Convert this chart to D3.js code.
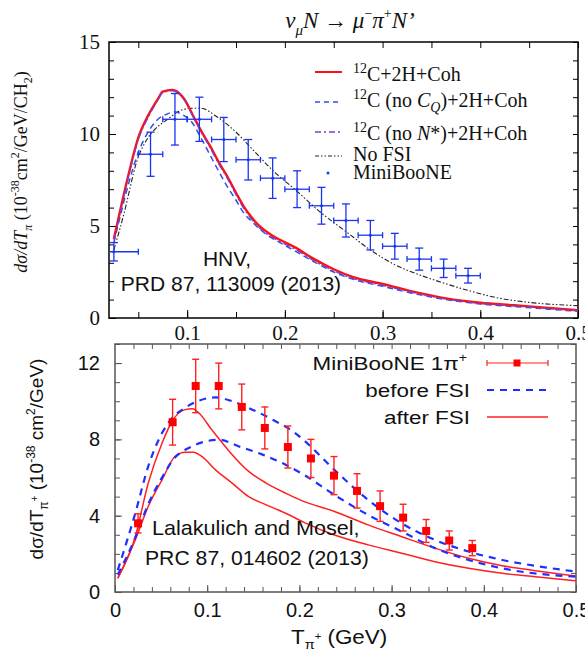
<!DOCTYPE html>
<html>
<head>
<meta charset="utf-8">
<script src="https://cdn.jsdelivr.net/npm/d3@7"></script>
<style>
body{margin:0;background:#fff;}
.serif{font-family:"Liberation Serif","Times New Roman",serif;}
.sans{font-family:"Liberation Sans",Arial,sans-serif;}
</style>
</head>
<body>
<div id="vis-container"></div>
<script>
//MiniBooNE CC1pi+ data, shared by both panels
let mbT    = [0.025,0.0625,0.0875,0.1125,0.1375,0.1625,0.1875,0.2125,0.2375,0.2625,0.2875,0.3125,0.3375,0.3625,0.3875];
let mbHalf = [0.025,0.0125,0.0125,0.0125,0.0125,0.0125,0.0125,0.0125,0.0125,0.0125,0.0125,0.0125,0.0125,0.0125,0.0125];
let mbVal  = [3.6,8.9,10.8,10.8,9.7,8.6,7.6,7.0,6.1,5.3,4.5,3.9,3.2,2.7,2.3];
let mbErr  = [0.5,1.2,1.4,1.2,1.2,1.1,1.1,1.0,1.0,0.9,0.8,0.7,0.6,0.5,0.4];

//top panel (HNV) curves
let cohT   = [0.025,0.03,0.04,0.05,0.06,0.07,0.075,0.085,0.09,0.097,0.107,0.115,0.124,0.132,0.141,0.15,0.158,0.167,0.175,0.185,0.195,0.21,0.23,0.25,0.27,0.3,0.33,0.365,0.4,0.435,0.47,0.5];
let cohVal = [4.3,5.5,7.8,9.8,11.0,11.9,12.3,12.4,12.3,11.9,10.9,10.1,9.3,8.5,7.7,6.8,6.05,5.4,4.95,4.55,4.25,3.85,3.2,2.65,2.22,1.85,1.45,1.07,0.83,0.69,0.55,0.42];
let noNstarVal = [4.2,5.4,7.7,9.7,10.9,11.85,12.25,12.35,12.25,11.85,10.85,10.05,9.2,8.4,7.6,6.7,5.95,5.3,4.85,4.45,4.15,3.75,3.1,2.57,2.14,1.78,1.4,1.03,0.8,0.66,0.52,0.4];
let noCqT   = [0.025,0.03,0.04,0.05,0.06,0.07,0.08,0.088,0.095,0.104,0.114,0.124,0.132,0.141,0.15,0.158,0.167,0.175,0.185,0.195,0.21,0.23,0.25,0.27,0.3,0.33,0.365,0.4,0.435,0.47,0.5];
let noCqVal = [4.1,5.2,7.3,9.0,10.1,10.8,11.1,11.2,11.05,10.7,9.8,8.8,8.0,7.15,6.4,5.7,5.2,4.8,4.4,4.1,3.65,3.05,2.5,2.1,1.72,1.35,1.0,0.76,0.62,0.48,0.36];
let noFsiT   = [0.025,0.035,0.049,0.06,0.066,0.08,0.094,0.105,0.114,0.13,0.148,0.168,0.188,0.21,0.2375,0.2625,0.2875,0.3125,0.3375,0.3625,0.3875,0.42,0.45,0.5];
let noFsiVal = [3.7,5.6,8.6,9.8,10.2,10.8,11.3,11.4,11.4,10.95,10.2,9.1,8.0,7.0,5.7,4.7,3.7,2.9,2.35,1.9,1.5,1.07,0.85,0.67];

//bottom panel (Lalakulich & Mosel) curves
let afterAT   = [0.003,0.022,0.036,0.051,0.062,0.076,0.084,0.091,0.105,0.124,0.145,0.164,0.185,0.202,0.238,0.2745,0.311,0.347,0.3835,0.42,0.456,0.5];
let afterAVal = [0.72,2.9,5.7,7.8,8.95,9.56,9.6,9.38,8.5,7.37,6.32,5.71,5.18,4.8,4.22,3.52,2.9,2.3,1.77,1.38,1.12,0.84];
let afterBT   = [0.003,0.022,0.036,0.051,0.065,0.076,0.085,0.0945,0.109,0.127,0.145,0.164,0.185,0.205,0.238,0.2745,0.311,0.347,0.3835,0.42,0.456,0.5];
let afterBVal = [0.72,2.73,4.48,5.88,7.1,7.33,7.33,7.1,6.4,5.71,5.0,4.57,4.13,3.65,2.99,2.47,2.03,1.59,1.24,0.98,0.8,0.59];
let beforeAT   = [0.003,0.022,0.036,0.051,0.062,0.076,0.091,0.109,0.127,0.145,0.171,0.193,0.205,0.238,0.2745,0.311,0.347,0.3835,0.42,0.456,0.5];
let beforeAVal = [1.15,4.13,6.58,8.33,9.12,9.65,10.03,10.2,10.0,9.65,9.03,8.42,7.95,6.4,4.83,3.6,2.73,2.12,1.68,1.37,1.07];
let beforeBT   = [0.003,0.022,0.036,0.051,0.065,0.08,0.098,0.113,0.1345,0.16,0.185,0.205,0.238,0.2745,0.311,0.347,0.3835,0.42,0.5];
let beforeBVal = [0.9,2.85,4.6,6.0,7.05,7.55,7.89,7.98,7.63,7.2,6.67,6.14,5.09,4.04,3.17,2.3,1.68,1.24,0.8];

let width = 585, height = 652;

let svg = d3.select("#vis-container")
  .append("svg")
  .attr("width", width)
  .attr("height", height);

//frames of the two panels
let pTop = {left:109, right:578, top:42, bottom:318};
let pBot = {left:115, right:576, top:344, bottom:592};

//scales
let x1 = d3.scaleLinear().domain([0.02,0.5]).range([pTop.left,pTop.right]);
let y1 = d3.scaleLinear().domain([0,15]).range([pTop.bottom,pTop.top]);
let x2 = d3.scaleLinear().domain([0,0.5]).range([pBot.left,pBot.right]);
let y2 = d3.scaleLinear().domain([0,13]).range([pBot.bottom,pBot.top]);

//clip paths
let defs = svg.append("defs");
defs.append("clipPath").attr("id","clipTop").append("rect")
  .attr("x",pTop.left).attr("y",pTop.top)
  .attr("width",pTop.right-pTop.left).attr("height",pTop.bottom-pTop.top);
defs.append("clipPath").attr("id","clipBot").append("rect")
  .attr("x",pBot.left).attr("y",pBot.top)
  .attr("width",pBot.right-pBot.left).attr("height",pBot.bottom-pBot.top);

//helper: draw an axis, strip its domain line
function drawAxis(axis, tx, ty, color){
  let g = svg.append("g")
    .attr("transform", `translate(${tx},${ty})`)
    .call(axis);
  g.select(".domain").remove();
  g.selectAll("line").attr("stroke", color).attr("stroke-width",1);
  return g;
}

// ================= TOP PANEL =================
let serifAxisText = g => g.selectAll("text")
  .attr("class","serif").attr("font-size",21).attr("fill","#111");

drawAxis(d3.axisLeft(y1).tickValues(d3.range(0,16,1)).tickSize(-5).tickFormat(""), pTop.left, 0, "#000");
drawAxis(d3.axisRight(y1).tickValues(d3.range(0,16,1)).tickSize(-5).tickFormat(""), pTop.right, 0, "#000");
drawAxis(d3.axisLeft(y1).tickValues([0,5,10,15]).tickSizeInner(-7).tickSizeOuter(0).tickPadding(9).tickFormat(d3.format("d")), pTop.left, 0, "#000")
  .call(serifAxisText);
drawAxis(d3.axisTop(x1).tickValues(d3.range(0.05,0.51,0.05)).tickSize(-6).tickFormat(""), 0, pTop.top, "#000");
drawAxis(d3.axisBottom(x1).tickValues(d3.range(0.05,0.51,0.05)).tickSize(-6).tickFormat(""), 0, pTop.bottom, "#000");
drawAxis(d3.axisBottom(x1).tickValues([0.1,0.2,0.3,0.4,0.5]).tickSizeInner(-8).tickSizeOuter(0).tickPadding(7).tickFormat(d3.format(".1f")), 0, pTop.bottom, "#000")
  .call(serifAxisText);

svg.append("rect")
  .attr("x",pTop.left).attr("y",pTop.top)
  .attr("width",pTop.right-pTop.left).attr("height",pTop.bottom-pTop.top)
  .attr("fill","none").attr("stroke","#000").attr("stroke-width",1.5);

let gTop = svg.append("g").attr("clip-path","url(#clipTop)");

let lineTop = d3.line()
  .x(d=>x1(d[0])).y(d=>y1(d[1]))
  .curve(d3.curveMonotoneX);

let topCurves = [
  {t:noFsiT, v:noFsiVal, color:"#222", w:1.1, dash:"5,2,1.5,2,1.5,2"},
  {t:noCqT, v:noCqVal, color:"#2f52e0", w:1.5, dash:"6,4"},
  {t:cohT, v:cohVal, color:"#ff1010", w:2.4, dash:null},
  {t:cohT, v:noNstarVal, color:"#7b3fd0", w:1.4, dash:"7,3,2,3"}
];

for (let c of topCurves){
  gTop.append("path")
    .attr("d", lineTop(c.t.map((t,i)=>[t,c.v[i]])))
    .attr("fill","none")
    .attr("stroke",c.color)
    .attr("stroke-width",c.w)
    .attr("stroke-dasharray",c.dash);
}

//MiniBooNE points, top panel
let mbBlue = "#1a35f0";
let topPts = gTop.selectAll(".mbTop")
  .data(mbT.map((t,i)=>({t:t, h:mbHalf[i], v:mbVal[i], e:mbErr[i]})))
  .enter().append("g").attr("class","mbTop")
  .attr("stroke",mbBlue).attr("stroke-width",1.3);

topPts.append("line")
  .attr("x1",d=>x1(d.t-d.h)).attr("x2",d=>x1(d.t+d.h))
  .attr("y1",d=>y1(d.v)).attr("y2",d=>y1(d.v));
topPts.append("line")
  .attr("x1",d=>x1(d.t+d.h)).attr("x2",d=>x1(d.t+d.h))
  .attr("y1",d=>y1(d.v)-3).attr("y2",d=>y1(d.v)+3);
topPts.append("line")
  .attr("x1",d=>x1(d.t-d.h)).attr("x2",d=>x1(d.t-d.h))
  .attr("y1",d=>y1(d.v)-3).attr("y2",d=>y1(d.v)+3);
topPts.append("line")
  .attr("x1",d=>x1(d.t)).attr("x2",d=>x1(d.t))
  .attr("y1",d=>y1(d.v+d.e)).attr("y2",d=>y1(d.v-d.e));
topPts.append("line")
  .attr("x1",d=>x1(d.t)-4).attr("x2",d=>x1(d.t)+4)
  .attr("y1",d=>y1(d.v+d.e)).attr("y2",d=>y1(d.v+d.e));
topPts.append("line")
  .attr("x1",d=>x1(d.t)-4).attr("x2",d=>x1(d.t)+4)
  .attr("y1",d=>y1(d.v-d.e)).attr("y2",d=>y1(d.v-d.e));
topPts.append("circle")
  .attr("cx",d=>x1(d.t)).attr("cy",d=>y1(d.v)).attr("r",1.5)
  .attr("fill",mbBlue).attr("stroke","none");

//title
let title = svg.append("text").attr("class","serif")
  .attr("x",350).attr("y",28).attr("text-anchor","middle")
  .attr("font-size",23).attr("font-style","italic").attr("fill","#111");
title.append("tspan").text("ν");
title.append("tspan").attr("font-size",15).attr("dy",7).text("μ");
title.append("tspan").attr("dy",-7).text("N ");
title.append("tspan").attr("font-style","normal").text("→ ");
title.append("tspan").text("μ");
title.append("tspan").attr("font-size",14).attr("dy",-10).attr("font-style","normal").text("−");
title.append("tspan").attr("dy",10).text("π");
title.append("tspan").attr("font-size",14).attr("dy",-10).attr("font-style","normal").text("+");
title.append("tspan").attr("dy",10).text("N’");

//top y label
let yl1 = svg.append("text").attr("class","serif")
  .attr("transform","translate(27,172) rotate(-90)")
  .attr("text-anchor","middle").attr("font-size",18).attr("fill","#111");
yl1.append("tspan").attr("font-style","italic").text("dσ/dT");
yl1.append("tspan").attr("font-style","italic").attr("font-size",12).attr("dy",5).text("π");
yl1.append("tspan").attr("dy",-5).text("  (10");
yl1.append("tspan").attr("font-size",12).attr("dy",-8).text("-38");
yl1.append("tspan").attr("dy",8).text("cm");
yl1.append("tspan").attr("font-size",12).attr("dy",-8).text("2");
yl1.append("tspan").attr("dy",8).text("/GeV/CH");
yl1.append("tspan").attr("font-size",12).attr("dy",5).text("2");
yl1.append("tspan").attr("dy",-5).text(")");

//top legend
let legTop = svg.append("g").attr("class","serif").attr("font-size",20).attr("fill","#111");
let legX0 = 315, legX1 = 342, legTx = 353;
let legRows = [
  {y:72, color:"#ff1010", w:2, dash:null},
  {y:102, color:"#2f52e0", w:1.3, dash:"5,4"},
  {y:132, color:"#7b3fd0", w:1.3, dash:"6,3,2,3"},
  {y:156, color:"#222", w:1, dash:"4,2,1.5,2,1.5,2"}
];
for (let r of legRows){
  legTop.append("line")
    .attr("x1",legX0).attr("x2",legX1).attr("y1",r.y).attr("y2",r.y)
    .attr("stroke",r.color).attr("stroke-width",r.w).attr("stroke-dasharray",r.dash);
}
legTop.append("circle").attr("cx",328).attr("cy",173).attr("r",1.5).attr("fill",mbBlue);

let t1 = legTop.append("text").attr("x",legTx).attr("y",81);
t1.append("tspan").attr("font-size",14).attr("dy",-8).text("12");
t1.append("tspan").attr("dy",8).text("C+2H+Coh");
let t2 = legTop.append("text").attr("x",legTx).attr("y",107);
t2.append("tspan").attr("font-size",14).attr("dy",-8).text("12");
t2.append("tspan").attr("dy",8).text("C (no ");
t2.append("tspan").attr("font-style","italic").text("C");
t2.append("tspan").attr("font-style","italic").attr("font-size",14).attr("dy",5).text("Q");
t2.append("tspan").attr("dy",-5).text(")+2H+Coh");
let t3 = legTop.append("text").attr("x",legTx).attr("y",140);
t3.append("tspan").attr("font-size",14).attr("dy",-8).text("12");
t3.append("tspan").attr("dy",8).text("C (no ");
t3.append("tspan").attr("font-style","italic").text("N");
t3.append("tspan").text("*)+2H+Coh");
legTop.append("text").attr("x",legTx).attr("y",161).text("No FSI");
legTop.append("text").attr("x",legTx).attr("y",179).text("MiniBooNE");

//top annotation
svg.append("text").attr("class","sans").attr("x",227).attr("y",266)
  .attr("text-anchor","middle").attr("font-size",21).attr("fill","#111").text("HNV,");
svg.append("text").attr("class","sans").attr("x",231).attr("y",291)
  .attr("text-anchor","middle").attr("font-size",21).attr("fill","#111").text("PRD 87, 113009 (2013)");

// ================= BOTTOM PANEL =================
let frameGray = "#555";
let sansAxisText = g => g.selectAll("text")
  .attr("class","sans").attr("font-size",20).attr("fill","#111");

drawAxis(d3.axisLeft(y2).tickValues(d3.range(0,14,1)).tickSize(-5).tickFormat(""), pBot.left, 0, frameGray);
drawAxis(d3.axisRight(y2).tickValues(d3.range(0,14,1)).tickSize(-5).tickFormat(""), pBot.right, 0, frameGray);
drawAxis(d3.axisLeft(y2).tickValues([0,4,8,12]).tickSizeInner(-7).tickSizeOuter(0).tickPadding(15).tickFormat(d3.format("d")), pBot.left, 0, frameGray)
  .call(sansAxisText);
drawAxis(d3.axisTop(x2).tickValues(d3.range(0.02,0.5,0.02)).tickSize(-5).tickFormat(""), 0, pBot.top, frameGray);
drawAxis(d3.axisBottom(x2).tickValues(d3.range(0.02,0.5,0.02)).tickSize(-5).tickFormat(""), 0, pBot.bottom, frameGray);
drawAxis(d3.axisBottom(x2).tickValues([0,0.1,0.2,0.3,0.4,0.5]).tickSizeInner(-7).tickSizeOuter(0).tickPadding(11).tickFormat(d=>d===0?"0":d3.format(".1f")(d)), 0, pBot.bottom, frameGray)
  .call(sansAxisText);

svg.append("rect")
  .attr("x",pBot.left).attr("y",pBot.top)
  .attr("width",pBot.right-pBot.left).attr("height",pBot.bottom-pBot.top)
  .attr("fill","none").attr("stroke",frameGray).attr("stroke-width",1.5);

let gBot = svg.append("g").attr("clip-path","url(#clipBot)");

let lineBot = d3.line()
  .x(d=>x2(d[0])).y(d=>y2(d[1]))
  .curve(d3.curveMonotoneX);

let botRed = "#ff2020", botBlue = "#1f2fff";
let botCurves = [
  {t:afterAT, v:afterAVal, color:botRed, w:1.5, dash:null},
  {t:afterBT, v:afterBVal, color:botRed, w:1.5, dash:null},
  {t:beforeAT, v:beforeAVal, color:botBlue, w:2.2, dash:"7,6"},
  {t:beforeBT, v:beforeBVal, color:botBlue, w:2.2, dash:"7,6"}
];
for (let c of botCurves){
  gBot.append("path")
    .attr("d", lineBot(c.t.map((t,i)=>[t,c.v[i]])))
    .attr("fill","none")
    .attr("stroke",c.color)
    .attr("stroke-width",c.w)
    .attr("stroke-dasharray",c.dash);
}

//MiniBooNE points, bottom panel
let botPts = gBot.selectAll(".mbBot")
  .data(mbT.map((t,i)=>({t:t, v:mbVal[i], e:mbErr[i]})))
  .enter().append("g").attr("class","mbBot")
  .attr("stroke",botRed).attr("stroke-width",1.4);
botPts.append("line")
  .attr("x1",d=>x2(d.t)).attr("x2",d=>x2(d.t))
  .attr("y1",d=>y2(d.v+d.e)).attr("y2",d=>y2(d.v-d.e));
botPts.append("line")
  .attr("x1",d=>x2(d.t)-3.5).attr("x2",d=>x2(d.t)+3.5)
  .attr("y1",d=>y2(d.v+d.e)).attr("y2",d=>y2(d.v+d.e));
botPts.append("line")
  .attr("x1",d=>x2(d.t)-3.5).attr("x2",d=>x2(d.t)+3.5)
  .attr("y1",d=>y2(d.v-d.e)).attr("y2",d=>y2(d.v-d.e));
botPts.append("rect")
  .attr("x",d=>x2(d.t)-4).attr("y",d=>y2(d.v)-4)
  .attr("width",8).attr("height",8)
  .attr("fill","#ff0000").attr("stroke","none");

//bottom legend
let legBot = svg.append("g").attr("class","sans").attr("font-size",19).attr("fill","#111");
let lb1 = legBot.append("text").attr("x",467).attr("y",370).attr("text-anchor","end")
  .attr("transform","translate(467,0) scale(1.18,1) translate(-467,0)");
lb1.append("tspan").text("MiniBooNE 1π");
lb1.append("tspan").attr("font-size",12).attr("dy",-8).text("+");
legBot.append("text").attr("x",470).attr("y",397).attr("text-anchor","end")
  .attr("transform","translate(470,0) scale(1.18,1) translate(-470,0)").text("before FSI");
legBot.append("text").attr("x",470).attr("y",424).attr("text-anchor","end")
  .attr("transform","translate(470,0) scale(1.18,1) translate(-470,0)").text("after FSI");

legBot.append("line").attr("x1",487).attr("x2",548).attr("y1",363).attr("y2",363)
  .attr("stroke",botRed).attr("stroke-width",1.2);
legBot.append("line").attr("x1",487).attr("x2",487).attr("y1",360).attr("y2",366)
  .attr("stroke",botRed).attr("stroke-width",1.2);
legBot.append("line").attr("x1",548).attr("x2",548).attr("y1",360).attr("y2",366)
  .attr("stroke",botRed).attr("stroke-width",1.2);
legBot.append("rect").attr("x",513.5).attr("y",359.5).attr("width",7).attr("height",7).attr("fill","#ff0000");
legBot.append("line").attr("x1",487).attr("x2",548).attr("y1",390).attr("y2",390)
  .attr("stroke",botBlue).attr("stroke-width",2.2).attr("stroke-dasharray","7,6");
legBot.append("line").attr("x1",487).attr("x2",548).attr("y1",417).attr("y2",417)
  .attr("stroke",botRed).attr("stroke-width",1.5);

//bottom annotation
svg.append("text").attr("class","sans").attr("x",152).attr("y",535)
  .attr("font-size",20).attr("fill","#111")
  .attr("transform","translate(152,0) scale(1.08,1) translate(-152,0)")
  .text("Lalakulich and Mosel,");
svg.append("text").attr("class","sans").attr("x",145).attr("y",565)
  .attr("font-size",20).attr("fill","#111")
  .attr("transform","translate(145,0) scale(1.06,1) translate(-145,0)")
  .text("PRC 87, 014602 (2013)");

//bottom y label
let yl2 = svg.append("text").attr("class","sans")
  .attr("transform","translate(43,459) rotate(-90)")
  .attr("text-anchor","middle").attr("font-size",19).attr("fill","#111");
yl2.append("tspan").text("dσ/dT");
yl2.append("tspan").attr("font-size",12).attr("dy",5).text("π");
yl2.append("tspan").attr("font-size",10).attr("dy",-10).text("+");
yl2.append("tspan").attr("dy",5).text("  (10");
yl2.append("tspan").attr("font-size",12).attr("dy",-8).text("-38");
yl2.append("tspan").attr("dy",8).text(" cm");
yl2.append("tspan").attr("font-size",12).attr("dy",-8).text("2");
yl2.append("tspan").attr("dy",8).text("/GeV)");

//bottom x label
let xl2 = svg.append("text").attr("class","sans")
  .attr("x",291).attr("y",644).attr("font-size",20).attr("fill","#111")
  .attr("transform","translate(291,0) scale(1.12,1) translate(-291,0)");
xl2.append("tspan").text("T");
xl2.append("tspan").attr("font-size",13).attr("dy",5).text("π");
xl2.append("tspan").attr("font-size",10).attr("dy",-9).text("+");
xl2.append("tspan").attr("dy",4).text("  (GeV)");
</script>
</body>
</html>
